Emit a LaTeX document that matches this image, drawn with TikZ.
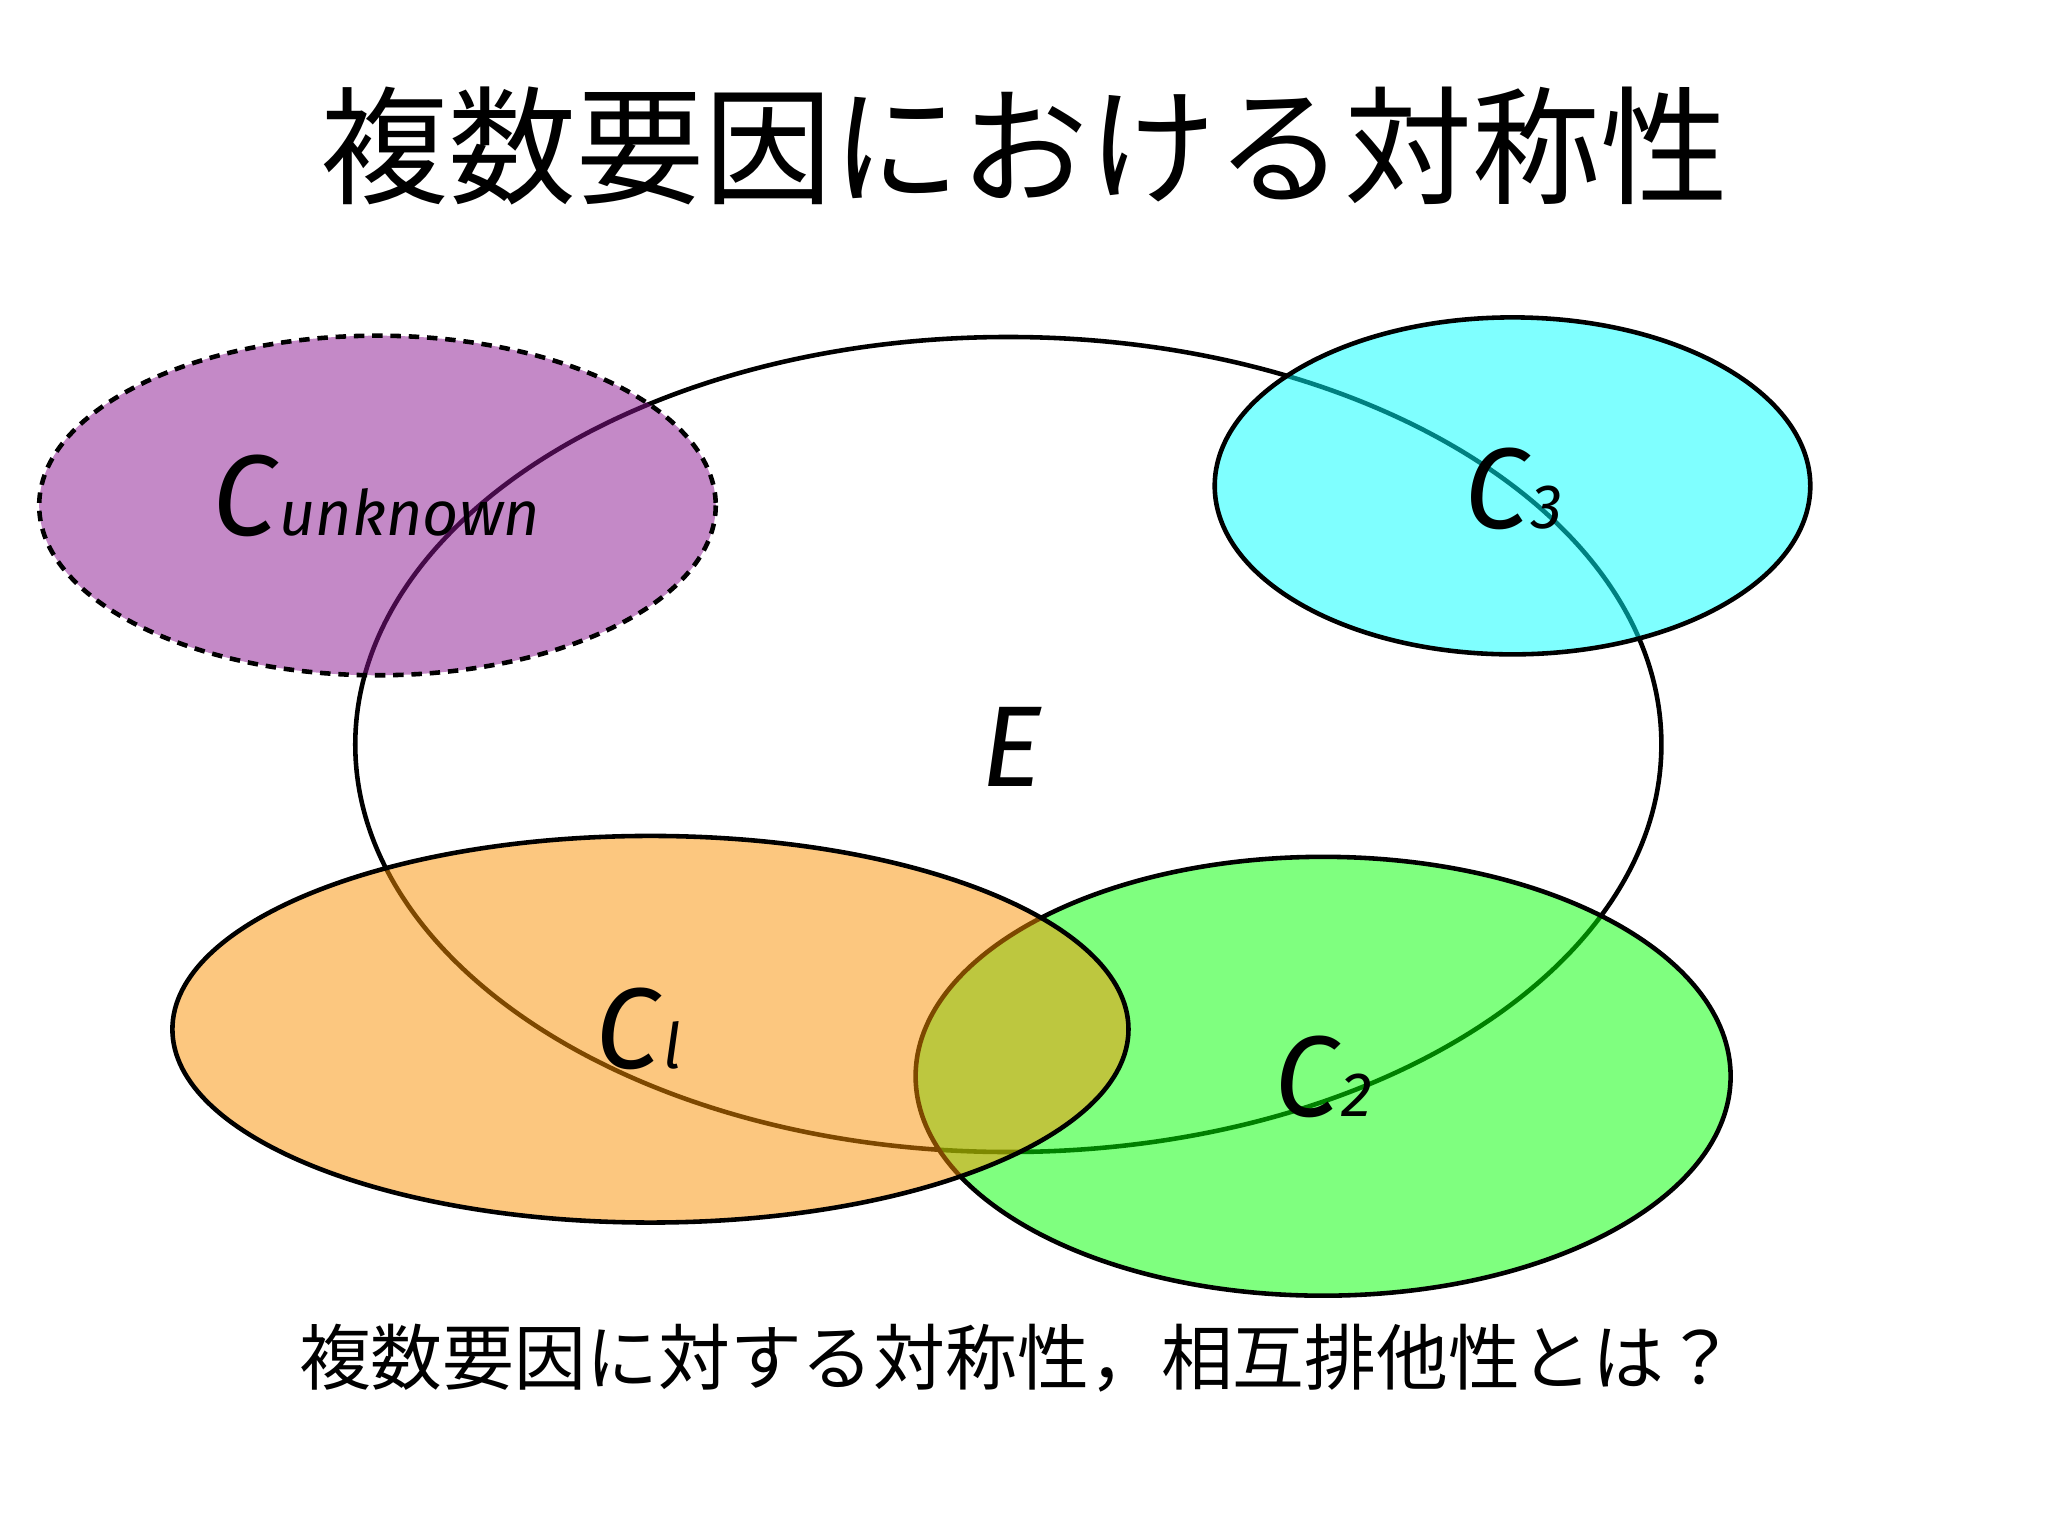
\documentclass[tikz,border=0pt]{standalone}
\usepackage{fontspec}
\setmainfont{Fira Sans}
\newfontfamily\cjk{Noto Sans CJK JP}
\definecolor{cpur}{RGB}{139,21,145}
\definecolor{corg}{RGB}{251,145,0}
\definecolor{ccya}{RGB}{0,255,255}
\definecolor{cgrn}{RGB}{0,255,0}
\begin{document}
\begin{tikzpicture}[x=1pt,y=-1pt,
  ell/.style={draw=black,line width=3.5pt,fill opacity=0.5},
  lab/.style={font=\fontsize{88}{88}\selectfont\itshape},
  sub/.style={font=\fontsize{48}{48}\selectfont\itshape}]
\useasboundingbox[fill=white] (0,0) rectangle (1568,1176);
\node[font=\cjk\fontsize{98}{98}\selectfont] (title) at (784,112) {複数要因における対称性};
\node[font=\cjk\fontsize{55}{55}\selectfont] (sub) at (779,1040) {複数要因に対する対称性，相互排他性とは？};
\draw[line width=3.5pt] (772,570) ellipse [x radius=500,y radius=312];
\draw[ell,fill=cpur,dash pattern=on 8pt off 6pt] (289,387) ellipse [x radius=259,y radius=130];
\draw[ell,fill=ccya] (1158,372) ellipse [x radius=228,y radius=129];
\draw[ell,fill=cgrn] (1013,824) ellipse [x radius=312,y radius=168];
\draw[ell,fill=corg] (498,788) ellipse [x radius=366,y radius=148];
\node[lab] (E) at (775,572) {E};
\node[lab,anchor=base east,inner sep=0] (cu) at (212,410) {C};
\node[sub,anchor=base west,inner sep=0] (cus) at (214,410) {unknown};
\node[lab,anchor=base east,inner sep=0] (c3) at (1170,405) {C};
\node[sub,anchor=base west,inner sep=0] (c3s) at (1172,405) {3};
\node[lab,anchor=base east,inner sep=0] (c1) at (505,818) {C};
\node[sub,anchor=base west,inner sep=0] (c1s) at (508,818) {l};
\node[lab,anchor=base east,inner sep=0] (c2) at (1025,855) {C};
\node[sub,anchor=base west,inner sep=0] (c2s) at (1027,855) {2};
\end{tikzpicture}
\end{document}
